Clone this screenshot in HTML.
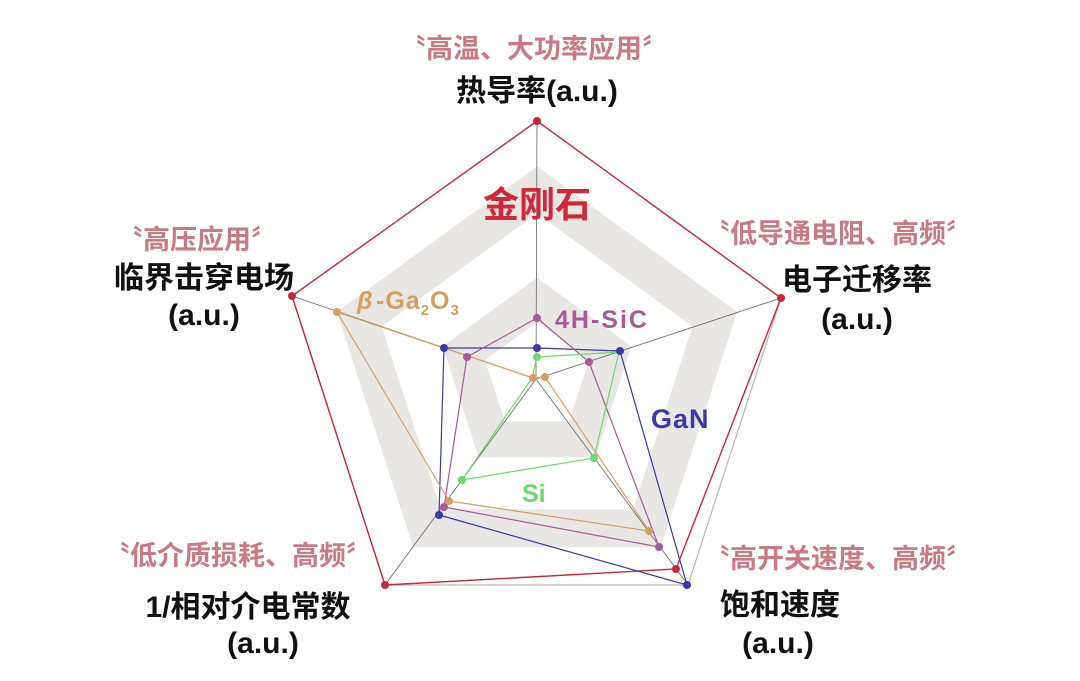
<!DOCTYPE html>
<html><head><meta charset="utf-8"><style>
html,body{margin:0;padding:0;background:#fff;}
svg{display:block;}
text{font-family:"Liberation Sans","Noto Sans CJK SC",sans-serif;font-weight:bold;}
</style></head><body>
<svg width="1080" height="681" viewBox="0 0 1080 681" xmlns="http://www.w3.org/2000/svg">
<g fill="none" stroke="#e9e7e4" stroke-linejoin="miter">
<polygon stroke-width="38" points="537,190 714.8,319.2 646.9,528.3 427.1,528.3 359.2,319.2"/>
<polygon stroke-width="36" points="537,300 610.2,353.2 582.3,439.3 491.7,439.3 463.8,353.2"/>
</g>
<polygon points="537,121 781,298 688,585 385,585 292,296" fill="none" stroke="#b8b8b8" stroke-width="1.2"/>
<g stroke="#666" stroke-width="0.8">
<line x1="536" y1="379" x2="537" y2="121"/>
<line x1="536" y1="379" x2="292" y2="296"/>
<line x1="536" y1="379" x2="781" y2="298"/>
<line x1="536" y1="379" x2="385" y2="585"/>
<line x1="536" y1="379" x2="688" y2="585"/>
</g>
<polygon points="537,121 781,298 676,569 385,585 292,296" fill="none" stroke="#c8283a" stroke-width="1.4"/>
<polygon points="537,348 620,351 687,585 439,515 444,348" fill="none" stroke="#3a3aa8" stroke-width="1.2"/>
<polygon points="537,318 589,362 659,547 444,507 467,357" fill="none" stroke="#a85a98" stroke-width="1.2"/>
<polygon points="537,357 619,352 594,458 462,480 532,378" fill="none" stroke="#6dd86d" stroke-width="1.2"/>
<polygon points="533,378 545,377 649,531 449,501 337,312" fill="none" stroke="#d3a064" stroke-width="1.2"/>
<g fill="#c8283a"><circle cx="537" cy="121" r="4"/><circle cx="781" cy="298" r="4"/><circle cx="676" cy="569" r="4"/><circle cx="385" cy="585" r="4"/><circle cx="292" cy="296" r="4"/></g>
<g fill="#3a3aa8"><circle cx="537" cy="348" r="4"/><circle cx="620" cy="351" r="4"/><circle cx="687" cy="585" r="4"/><circle cx="439" cy="515" r="4"/><circle cx="444" cy="348" r="4"/></g>
<g fill="#a85a98"><circle cx="537" cy="318" r="4"/><circle cx="589" cy="362" r="4"/><circle cx="659" cy="547" r="4"/><circle cx="444" cy="507" r="4"/><circle cx="467" cy="357" r="4"/></g>
<g fill="#6dd86d"><circle cx="537" cy="357" r="4"/><circle cx="594" cy="458" r="4"/><circle cx="462" cy="480" r="4"/></g>
<g fill="#d3a064"><circle cx="533" cy="378" r="4"/><circle cx="545" cy="377" r="4"/><circle cx="649" cy="531" r="4"/><circle cx="449" cy="501" r="4"/><circle cx="337" cy="312" r="4"/></g>
<text x="537" y="217" font-size="36" fill="#d0283a" text-anchor="middle">金刚石</text>
<text x="357" y="309" font-size="25" fill="#d3a064" font-style="italic">β</text>
<text x="376" y="309" font-size="25" fill="#d3a064" letter-spacing="1">-Ga<tspan font-size="15" dy="6">2</tspan><tspan dy="-6">O</tspan><tspan font-size="15" dy="6">3</tspan></text>
<text x="555" y="328" font-size="25" fill="#a85a98" letter-spacing="2">4H-SiC</text>
<text x="651" y="428" font-size="27" fill="#3a3aa8" letter-spacing="1">GaN</text>
<text x="522" y="502" font-size="25" fill="#6dd86d">Si</text>
<g font-size="27" fill="#c97a82" text-anchor="middle">
<text x="534" y="58">〝高温、大功率应用〞</text>
<text x="197" y="249">〝高压应用〞</text>
<text x="838" y="243">〝低导通电阻、高频〞</text>
<text x="238" y="565">〝低介质损耗、高频〞</text>
<text x="838" y="568">〝高开关速度、高频〞</text>
</g>
<g font-size="30" fill="#111" text-anchor="middle">
<text x="537" y="101">热导率(a.u.)</text>
<text x="204" y="288">临界击穿电场</text>
<text x="204" y="325">(a.u.)</text>
<text x="857" y="290">电子迁移率</text>
<text x="857" y="329">(a.u.)</text>
<text x="248" y="617">1/相对介电常数</text>
<text x="263" y="653">(a.u.)</text>
<text x="780" y="615">饱和速度</text>
<text x="778" y="653">(a.u.)</text>
</g>
</svg>
</body></html>
